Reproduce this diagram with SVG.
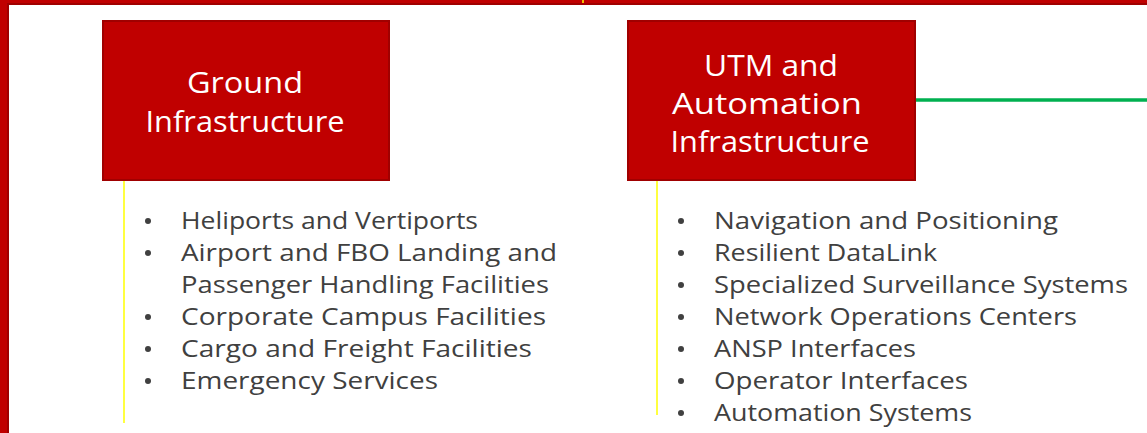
<svg xmlns="http://www.w3.org/2000/svg" width="1147" height="433" viewBox="0 0 1147 433">
  <style>
    .box { fill: #c00000; stroke: #a00000; stroke-width: 2; }
    .title { font-family: "Open Sans", "DejaVu Sans", sans-serif; font-size: 30px; fill: #ffffff; text-anchor: middle; }
    .item { font-family: "Open Sans", "DejaVu Sans", sans-serif; font-size: 24px; fill: #404040; }
    .dot { fill: #404040; }
    .rule { stroke: #ffff00; stroke-width: 1.5; }
    .link { stroke: #00b050; stroke-width: 3.5; fill: none; }
  </style>

  <!-- frame -->
  <rect x="0" y="0" width="1147" height="433" fill="#ffffff"/>
  <rect x="0" y="0" width="9" height="433" fill="#c00000"/>
  <rect x="7" y="3" width="2" height="430" fill="#a00000"/>
  <rect x="0" y="0" width="1147" height="5" fill="#c00000"/>
  <rect x="7" y="3" width="1140" height="2" fill="#a00000"/>
  <line x1="583" y1="0" x2="583" y2="3" stroke="#ffff00" stroke-width="1.5"/>

  <!-- connectors -->
  <g id="connectors">
    <line class="link" x1="916" y1="100" x2="1147" y2="100"/>
    <line class="rule" x1="124" y1="180" x2="124" y2="423"/>
    <line class="rule" x1="657" y1="178" x2="657" y2="415"/>
  </g>

  <!-- Ground Infrastructure -->
  <g id="ground">
    <rect class="box" x="103" y="21" width="286" height="159"/>
    <text class="title" x="245" y="93" textLength="116" lengthAdjust="spacingAndGlyphs">Ground</text>
    <text class="title" x="245" y="132" textLength="199" lengthAdjust="spacingAndGlyphs">Infrastructure</text>
  </g>
  <g id="ground-list">
    <circle class="dot" cx="148" cy="221" r="3"/>
    <circle class="dot" cx="148" cy="253" r="3"/>
    <circle class="dot" cx="148" cy="317" r="3"/>
    <circle class="dot" cx="148" cy="349" r="3"/>
    <circle class="dot" cx="148" cy="381" r="3"/>
    <text class="item" x="181" y="229" textLength="297" lengthAdjust="spacingAndGlyphs">Heliports and Vertiports</text>
    <text class="item" x="181" y="261" textLength="376" lengthAdjust="spacingAndGlyphs">Airport and FBO Landing and</text>
    <text class="item" x="181" y="293" textLength="368" lengthAdjust="spacingAndGlyphs">Passenger Handling Facilities</text>
    <text class="item" x="181" y="325" textLength="365" lengthAdjust="spacingAndGlyphs">Corporate Campus Facilities</text>
    <text class="item" x="181" y="357" textLength="351" lengthAdjust="spacingAndGlyphs">Cargo and Freight Facilities</text>
    <text class="item" x="181" y="389" textLength="257" lengthAdjust="spacingAndGlyphs">Emergency Services</text>
  </g>

  <!-- UTM and Automation Infrastructure -->
  <g id="utm">
    <rect class="box" x="628" y="21" width="287" height="159"/>
    <text class="title" x="771" y="76" textLength="134" lengthAdjust="spacingAndGlyphs">UTM and</text>
    <text class="title" x="767" y="114" textLength="190" lengthAdjust="spacingAndGlyphs">Automation</text>
    <text class="title" x="770" y="152" textLength="199" lengthAdjust="spacingAndGlyphs">Infrastructure</text>
  </g>
  <g id="utm-list">
    <circle class="dot" cx="681" cy="221" r="3"/>
    <circle class="dot" cx="681" cy="253" r="3"/>
    <circle class="dot" cx="681" cy="285" r="3"/>
    <circle class="dot" cx="681" cy="317" r="3"/>
    <circle class="dot" cx="681" cy="349" r="3"/>
    <circle class="dot" cx="681" cy="381" r="3"/>
    <circle class="dot" cx="681" cy="413" r="3"/>
    <text class="item" x="714" y="229" textLength="344" lengthAdjust="spacingAndGlyphs">Navigation and Positioning</text>
    <text class="item" x="714" y="261" textLength="223" lengthAdjust="spacingAndGlyphs">Resilient DataLink</text>
    <text class="item" x="714" y="293" textLength="414" lengthAdjust="spacingAndGlyphs">Specialized Surveillance Systems</text>
    <text class="item" x="714" y="325" textLength="363" lengthAdjust="spacingAndGlyphs">Network Operations Centers</text>
    <text class="item" x="714" y="357" textLength="202" lengthAdjust="spacingAndGlyphs">ANSP Interfaces</text>
    <text class="item" x="714" y="389" textLength="254" lengthAdjust="spacingAndGlyphs">Operator Interfaces</text>
    <text class="item" x="714" y="421" textLength="258" lengthAdjust="spacingAndGlyphs">Automation Systems</text>
  </g>
</svg>
